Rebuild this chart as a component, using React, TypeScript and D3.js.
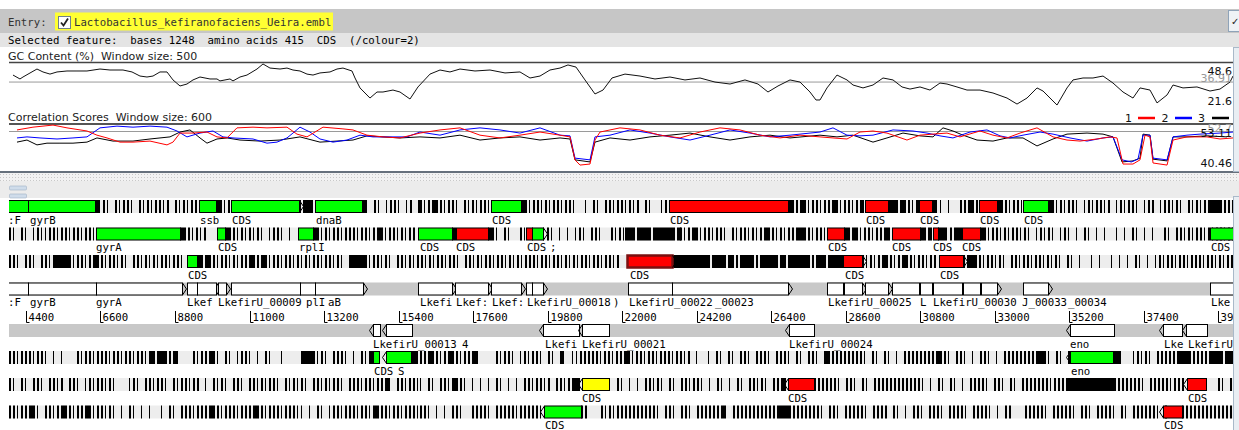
import React from 'react';
import * as d3 from 'd3';

// ---------- view / scale data ----------
const VIEW_START = 3899;
const VIEW_END = 40031;
const scaleTicks = [4400, 6600, 8800, 11000, 13200, 15400, 17600, 19800, 22000, 24200, 26400, 28600, 30800, 33000, 35200, 37400, 39600];
const BIN = 118; // bp per stop-codon pattern cell

// ---------- GC content (window 500) ----------
const gcPoints: [number, number][] = [
  [4017, 41.2], [4223, 38.8], [4312, 40.0], [4725, 44.9], [4902, 43.1], [5109, 41.8], [5316, 43.1], [5611, 43.7],
  [5906, 43.7], [6201, 43.7], [6585, 44.9], [6880, 44.3], [7264, 44.3], [7530, 43.1], [7766, 40.6], [7972, 40.0],
  [8150, 40.6], [8356, 43.1], [8563, 43.1], [8740, 38.2], [8947, 34.5], [9153, 35.7], [9330, 38.2], [9537, 40.0],
  [9832, 38.8], [10039, 38.8], [10127, 37.6], [10423, 38.8], [10511, 37.6], [10718, 40.0], [10924, 41.2], [11220, 44.9],
  [11397, 48.0], [11603, 45.5], [11899, 44.9], [12105, 45.5], [12282, 44.3], [12489, 43.7], [12696, 41.8], [12873, 41.2],
  [13079, 42.5], [13375, 43.1], [13581, 44.9], [13758, 45.5], [14024, 43.7], [14113, 39.4], [14260, 33.3], [14555, 27.1],
  [14762, 30.8], [14939, 30.8], [15234, 32.0], [15441, 30.8], [15736, 26.5], [15972, 33.9],
  [16327, 41.8], [16622, 44.3], [16917, 43.1], [17212, 44.9], [17655, 43.7], [18098, 44.3], [18541, 42.5], [18983, 43.1],
  [19279, 39.4], [19574, 40.6], [19869, 44.3], [20164, 45.5], [20400, 47.4], [20637, 46.1], [20902, 38.2], [21197, 29.6],
  [21434, 32.0], [21699, 39.4], [22083, 41.8], [22526, 40.6], [22969, 38.8], [23411, 40.0], [23854, 38.2], [24297, 39.4],
  [24740, 36.9], [25183, 35.7], [25625, 38.2], [26009, 35.7], [26304, 30.8], [26600, 34.5], [26954, 38.2], [27249, 36.9],
  [27544, 30.8], [27721, 25.9], [27839, 25.9], [28046, 33.3], [28341, 41.2], [28636, 38.2], [28814, 35.1], [29109, 33.3],
  [29404, 35.1], [29699, 39.4], [29994, 38.2], [30260, 33.9], [30496, 32.6], [30791, 33.9], [31086, 32.0], [31381, 36.3],
  [31588, 35.7], [31883, 33.9], [32178, 32.0], [32563, 32.0], [32946, 30.2], [33360, 27.1], [33655, 23.4], [33950, 27.1],
  [34246, 33.3], [34423, 31.4], [34836, 22.8], [35131, 33.3], [35308, 38.2], [35603, 39.4], [35898, 39.4], [36194, 40.6],
  [36489, 36.3], [36784, 30.8], [37079, 27.1], [37286, 33.3], [37581, 32.0], [37788, 24.1], [38084, 29.0], [38261, 35.1],
  [38555, 33.3], [38968, 33.9], [39352, 31.4], [39647, 32.6], [39942, 36.9], [40031, 40.6],
];
const GC_MAX = 48.6, GC_MIN = 21.6, GC_AVG = 36.91;

// ---------- correlation scores (window 600) ----------
const corr1: [number, number][] = [
  [4135, 51.4], [4607, 52.2], [5198, 52.8], [5611, 52.0], [6201, 51.1], [6496, 49.9], [6792, 49.1], [7175, 47.9],
  [7559, 47.9], [8061, 48.2], [8563, 47.1], [8740, 47.9], [8947, 50.5], [9330, 50.5], [9744, 50.8], [10039, 49.4],
  [10334, 49.1], [10629, 52.0], [11102, 52.2], [11515, 52.0], [12105, 52.2], [12400, 50.2], [12696, 49.4], [13168, 52.2],
  [13758, 51.7], [14053, 51.4], [14467, 49.9], [14939, 49.4], [15441, 49.1], [16031, 50.5], [16622, 51.4], [17212, 52.0],
  [17803, 49.9], [18393, 49.1], [18983, 49.9], [19574, 50.8], [20164, 49.9], [20460, 49.4], [20607, 42.8], [20755, 41.3],
  [21050, 41.6], [21197, 48.5], [21345, 50.8], [21935, 52.0], [22526, 51.4], [23116, 49.9], [23707, 49.1], [24297, 50.8],
  [24887, 52.0], [25478, 51.4], [26068, 49.9], [26659, 49.1], [27249, 49.9], [27839, 49.4], [28223, 49.1], [28636, 48.8],
  [29020, 50.8], [29404, 51.1], [29817, 50.5], [30407, 48.5], [30791, 49.9], [31175, 50.2], [31588, 50.5], [31972, 49.4],
  [32563, 51.1], [32946, 49.9], [33360, 49.1], [33743, 50.5], [34245, 52.0], [34718, 49.4], [35131, 48.5], [35515, 48.2],
  [36017, 48.8], [36400, 49.4], [36607, 49.1], [36784, 41.6], [37079, 41.6], [37286, 42.8], [37434, 49.9], [37581, 49.4],
  [37670, 41.9], [38084, 41.3], [38261, 48.5], [38673, 49.4], [39263, 49.4], [39647, 48.8], [40031, 49.1],
];
const corr2: [number, number][] = [
  [4135, 49.1], [4430, 49.4], [4814, 49.1], [5316, 48.8], [5788, 49.1], [6201, 49.4], [6585, 52.0], [7087, 52.5],
  [7559, 52.2], [8061, 52.5], [8563, 52.2], [8858, 51.1], [9153, 49.4], [9537, 50.5], [9921, 51.1], [10216, 49.4],
  [10511, 49.1], [11102, 48.8], [11515, 47.6], [11810, 47.9], [12105, 49.1], [12282, 50.5], [12489, 52.2], [12784, 50.8],
  [13079, 48.8], [13463, 47.9], [13876, 48.5], [14260, 49.9], [14644, 49.4], [15145, 49.4], [15647, 49.4], [16031, 50.8],
  [16622, 49.9], [17212, 51.4], [17803, 52.0], [18393, 51.4], [18983, 50.5], [19574, 52.0], [20164, 49.9], [20460, 49.7],
  [20607, 43.3], [21050, 42.8], [21197, 49.4], [21640, 49.9], [22231, 51.4], [22821, 50.5], [23411, 49.4], [24002, 48.5],
  [24592, 49.9], [25183, 51.4], [25773, 50.5], [26363, 49.4], [26954, 49.9], [27839, 50.8], [28223, 52.0], [28636, 49.9],
  [29020, 49.7], [29404, 49.9], [29994, 51.4], [30584, 51.1], [30998, 50.5], [31381, 49.7], [31765, 49.1], [32267, 50.8],
  [32769, 51.4], [33153, 49.7], [33448, 49.1], [33832, 49.9], [34335, 50.8], [34718, 50.2], [35219, 49.1], [35722, 48.2],
  [36194, 49.1], [36489, 49.4], [36755, 42.8], [37030, 42.2], [37227, 43.0], [37374, 49.9], [37581, 49.9], [37670, 43.3],
  [38084, 42.8], [38261, 49.4], [38673, 49.9], [39057, 50.2], [39647, 50.5], [40031, 50.8],
];
const corr3: [number, number][] = [
  [4135, 47.9], [4430, 48.5], [4725, 47.1], [5020, 47.6], [5404, 47.6], [5788, 47.6], [6201, 47.9], [6496, 49.1],
  [6969, 48.2], [7559, 48.2], [8061, 48.8], [8651, 49.4], [8947, 50.8], [9242, 51.4], [9537, 49.1], [9744, 47.6],
  [10039, 48.8], [10334, 49.1], [10718, 48.5], [11308, 48.2], [11899, 48.5], [12489, 49.4], [13079, 47.9], [13581, 48.2],
  [14053, 48.5], [14467, 49.7], [14939, 49.4], [15441, 49.1], [16031, 49.4], [16622, 49.1], [17212, 49.9], [17803, 48.5],
  [18393, 49.1], [18983, 49.4], [19574, 48.5], [20164, 49.1], [20460, 48.8], [20607, 42.8], [21050, 42.2], [21197, 47.9],
  [21640, 49.1], [22231, 48.5], [22821, 49.4], [23411, 49.9], [24002, 50.5], [24592, 49.4], [25183, 48.5], [25773, 49.4],
  [26363, 49.9], [26954, 49.1], [27839, 49.9], [28341, 49.4], [28814, 49.9], [29404, 47.9], [29817, 49.1], [30289, 50.5],
  [30791, 49.7], [31175, 49.4], [31470, 52.0], [31765, 51.1], [32061, 49.9], [32474, 48.5], [32946, 48.2], [33360, 49.1],
  [33832, 49.1], [34245, 46.8], [34718, 48.8], [35131, 50.2], [35722, 50.5], [36194, 50.2], [36489, 49.4], [36755, 42.2],
  [37079, 42.5], [37286, 43.3], [37374, 50.2], [37581, 49.9], [37670, 43.0], [38084, 42.5], [38261, 49.4], [38673, 49.4],
  [39263, 49.7], [39853, 49.4],
];
const CORR_MAX = 53.11, CORR_MIN = 40.46, CORR_AVG_LINE = 50.95;
const corrLegend = [{ n: '1', c: '#ff0000' }, { n: '2', c: '#0000ff' }, { n: '3', c: '#000000' }];

// ---------- features ----------
type Cds = { row: string; s: number; e: number; c: string; sel?: boolean };
const cdsForward: Cds[] = [
  { row: 'f1', s: 3800, e: 4460, c: 'g' }, { row: 'f1', s: 4460, e: 6437, c: 'g' }, { row: 'f1', s: 9507, e: 10009, c: 'g' },
  { row: 'f1', s: 10452, e: 12460, c: 'g' }, { row: 'f1', s: 12932, e: 14319, c: 'g' }, { row: 'f1', s: 18127, e: 19013, c: 'g' },
  { row: 'f1', s: 23382, e: 26895, c: 'r' }, { row: 'f1', s: 29168, e: 29847, c: 'r' }, { row: 'f1', s: 30762, e: 31145, c: 'r' },
  { row: 'f1', s: 32533, e: 33064, c: 'r' }, { row: 'f1', s: 33832, e: 34570, c: 'g' },
  { row: 'f2', s: 6467, e: 8947, c: 'g' }, { row: 'f2', s: 10039, e: 10275, c: 'g' }, { row: 'f2', s: 12430, e: 12873, c: 'g' },
  { row: 'f2', s: 15972, e: 16976, c: 'g' }, { row: 'f2', s: 17094, e: 18039, c: 'r' }, { row: 'f2', s: 19161, e: 19338, c: 'r' },
  { row: 'f2', s: 19338, e: 19663, c: 'g' }, { row: 'f2', s: 28046, e: 28548, c: 'r' }, { row: 'f2', s: 29965, e: 30791, c: 'r' },
  { row: 'f2', s: 31175, e: 31323, c: 'r' }, { row: 'f2', s: 32031, e: 32563, c: 'r' }, { row: 'f2', s: 39352, e: 40500, c: 'g' },
  { row: 'f3', s: 9153, e: 9448, c: 'g' }, { row: 'f3', s: 22142, e: 23471, c: 'r', sel: true }, { row: 'f3', s: 28518, e: 29079, c: 'r' },
  { row: 'f3', s: 31352, e: 32061, c: 'r' },
];
const cdsReverse: Cds[] = [
  { row: 'r1', s: 14644, e: 14821, c: 'g' }, { row: 'r1', s: 15027, e: 15766, c: 'g' }, { row: 'r1', s: 35219, e: 36489, c: 'g' },
  { row: 'r2', s: 20814, e: 21611, c: 'y' }, { row: 'r2', s: 26895, e: 27662, c: 'r' }, { row: 'r2', s: 38673, e: 39234, c: 'r' },
  { row: 'r3', s: 19692, e: 20784, c: 'g' }, { row: 'r3', s: 37965, e: 38526, c: 'r' },
];
const genesForward: [number, number][] = [
  [3800, 4460], [4460, 6467], [6467, 9006], [9153, 9448], [9448, 10009], [10068, 10305], [10452, 12489], [12489, 12932],
  [12932, 14349], [15972, 16976], [17065, 18039], [18127, 19013], [19161, 19338], [19338, 19663], [22172, 23471],
  [23471, 26895], [28046, 28518], [28548, 29079], [29168, 29847], [29965, 30762], [30791, 31145], [31175, 32031],
  [32061, 32563], [32593, 33064], [33832, 34570], [39352, 40500],
];
const genesReverse: [number, number][] = [
  [14644, 14851], [15027, 15795], [19663, 20725], [20814, 21611], [26924, 27662], [35219, 36519], [37965, 38526], [38644, 39263],
];

type Lab = [number, string];
const labelsF1: Lab[] = [[3869, ':F'], [4519, 'gyrB'], [9537, 'ssb'], [10482, 'CDS'], [12961, 'dnaB'], [18157, 'CDS'], [23411, 'CDS'], [29197, 'CDS'], [30791, 'CDS'], [32563, 'CDS'], [33861, 'CDS']];
const labelsF2: Lab[] = [[6467, 'gyrA'], [10068, 'CDS'], [12460, 'rplI'], [16031, 'CDS'], [17094, 'CDS'], [19190, 'CDS'], [19869, ';'], [28075, 'CDS'], [29965, 'CDS'], [31175, 'CDS'], [32031, 'CDS'], [39382, 'CDS']];
const labelsF3: Lab[] = [[9183, 'CDS'], [22231, 'CDS'], [28577, 'CDS'], [31381, 'CDS']];
const labelsFS: Lab[] = [[3869, ':F'], [4519, 'gyrB'], [6467, 'gyrA'], [9153, 'Lkef'], [10068, 'LkefirU_00009'], [12666, 'plI'], [13316, 'aB'], [16031, 'Lkefi'], [17094, 'Lkef:'], [18157, 'Lkef:'], [19190, 'LkefirU_00018'], [21729, ')'], [22201, 'LkefirU_00022'], [24740, '_00023'], [28075, 'LkefirU_00025'], [30791, 'L'], [31175, 'LkefirU_00030'], [33803, 'J_00033'], [35160, '_00034'], [39382, 'Lke']];
const labelsRS: Lab[] = [[14644, 'LkefirU_00013'], [17271, '4'], [19722, 'Lkefi'], [20814, 'LkefirU_00021'], [26924, 'LkefirU_00024'], [35219, 'eno'], [37995, 'Lke'], [38703, 'LkefirU']];
const labelsR1: Lab[] = [[14673, 'CDS'], [15382, 'S'], [35249, 'eno']];
const labelsR2: Lab[] = [[20814, 'CDS'], [26895, 'CDS'], [38703, 'CDS']];
const labelsR3: Lab[] = [[19722, 'CDS'], [37995, 'CDS']];

// ---------- stop codon patterns: [start bp, pattern] ('#' full, '!' half, '|' quarter of a bin) ----------
type Piece = [number, string];
const stopsF1: Piece[] = [
  [6437, '#'], [6555, '|!| !|!!| !|!|!!|! !|!|!!'], [10009, '#!|!'], [12460, '!##!'], [14319, '#| !| |!!| |! !'],
  [16031, '!|!#!!|!!| !|!|!!|!'], [19013, '#!|!!|!|!!|!!|  | !| !!|!!|!|! !|  |!'], [26895, '#!!#!|!!|!!#!|!!|!#'],
  [29847, '##!#!!|#'], [31145, '#|| |  !!#!!'], [33064, '#!!|!!|'], [34570, '#!|!|!!| |!|!!|! |!|!!| |!! |!!|!| !|!|!###!!!#'],
];
const stopsF2: Piece[] = [
  [3899, '!| !| |!||!!|!!|!!|!!|'], [8947, '#!!|!|!  '], [10275, '#!!|!|!|!| |!!| |  '], [12873, '#!|!|!!|!!!|!!|!#!|!!|!|!!'],
  [16976, '#'], [18039, '#!| !|  !|'], [19663, '|!| | | |!| !!|  !|!|'], [22083, '##!###!#####!#'],
  [23707, '!|!#!|!!|!!| !|!!|!|!#!!|!|!!##!!|!!|'], [28548, '#!#!|!!|!!#!'], [30791, '#!#'], [31323, '##|!##'],
  [32563, '#!|!!|!|!!|!| |!|!| |!| | !| | |  | | !| | |  !| !!|!|!!|!|!!|!!|'],
];
const stopsF3: Piece[] = [
  [3899, '!!| !!| !!|####!|!!|!#!!|!!|!| !!|!|!|!!|!!|'],
  [9448, '#!#!!|!!|!|!!#!!#!|!!|!!|!|!|!!|!!|!| ####!|!!|!| !!|!|!!|!|!!|!!| !!|!|!!|!!|!|!|!!!|!!|!!|!|!|!!|!!|!!|!'],
  [23471, '#########!###!#!!###!!####!#!#####!!##!####'], [29079, '!|!|!#!!|!#!!|!!|!!'],
  [32061, '!##!!|!!|!| !!|!!|!!|!|!| !| |  | |  | | | !| | |!|!!|!!|!!!|!!|!|!!|!|!!'],
];
const stopsR1: Piece[] = [
  [3899, '!!|!!!|!!| | |   !|!!|!!!|!!|!!|!!|#!##!!#|   !|!!#!| !| |!!| | !|  |    ###!|!| !!!| | !|#'],
  [15795, '#!!!#!!|!#!!|!!#!    !|!!| |!|!!| !| #  ||!!!!!|!!|!!#!|!!|!!|!!!|!!|! |  | !| !| !!| !!!| !!!| !| !!| #!!!!!!!!!| !| !| | !!!!!!!!#!!| !!| | !!| | !!!!!!!!##!| !| !'],
  [36489, '##   |!|!| !!!!!###!!!!!###!##'],
];
const stopsR2: Piece[] = [
  [3899, '!| !| !!| !!|! !!| |!|!!|!|   |!| !!|!!| !|!!|!! | !|!| !!| !!|!|!!| !|!|!| !!|!|!!| !!!|!!|!!#| !!|!!|'],
  [16031, '| !| !!|#!!| | | | !| | | !!|!!|! !!|!##'], [21611, '| !| | | !!|!| !| !!|!!| | !| | !| !!|!| !!#|'],
  [27662, '!!!!!!| !!| !| !!!!!!!!!!!!| | !| !| | !!!!| !!| !| !!!!!!!|!!!############!!!!!!!| !!!!!|!!!'],
  [39234, '|  !| !'],
];
const stopsR3: Piece[] = [
  [3899, '!!|!!#!| !!|!#!!|!!#!|!!|!| | !| | |  | !| !!!|!!!#!!|!!!|!!!#!!|!!!|!!!|| | !| |!!|!!!|!!|#!!!|!!|!!!|'],
  [16031, '!!| | | !!|  !!!!| !!!!!|!!!!!|'],
  [20784, '!!   !|!|!!!!!!!!!!| !!| !!| !!!!!!#| !!!!!!!!!!!###!!!!!!!!| !!| !!!!!| !!!! !| | !!| !!!| !!!!| !!!!| | !!   !!!!!| !!!!!| !!| !!!!| !| !!!!!!| !'],
  [38526, '!!!!!!!!!!!!!'],
];

// ---------- layout ----------
const W = 1239, H = 430;
const X0 = 9, X1 = 1233;
const ROW_H = 13;
const ROW_Y: Record<string, number> = { f1: 200, f2: 227.5, f3: 255, fs: 282.5, rs: 324, r1: 351, r2: 378, r3: 405.5 };
const MONO = '"DejaVu Sans Mono", monospace';
const SANS = '"DejaVu Sans", sans-serif';
const MONO_SIZE = 10.7;
const COLORS: Record<string, string> = { g: '#00ff00', r: '#ff0000', y: '#ffff00' };

export default function App() {
  const xs = d3.scaleLinear().domain([VIEW_START, VIEW_END]).range([X0, X1]);
  const gy = d3.scaleLinear().domain([GC_MIN, GC_MAX]).range([107, 63]);
  const cy = d3.scaleLinear().domain([CORR_MIN, CORR_MAX]).range([168, 124]);
  const gcLine = d3.line<[number, number]>().x(d => xs(d[0])).y(d => gy(d[1]));
  const cLine = d3.line<[number, number]>().x(d => xs(d[0])).y(d => cy(d[1]));

  const stopRects = (pieces: Piece[], rowKey: string) => {
    const y = ROW_Y[rowKey];
    const out: JSX.Element[] = [];
    pieces.forEach(([start, pat], pi) => {
      for (let i = 0; i < pat.length; i++) {
        const ch = pat[i];
        if (ch === ' ') continue;
        const frac = ch === '#' ? 1 : ch === '!' ? 0.5 : 0.25;
        const b = start + i * BIN;
        const xa = Math.round(xs(b));
        const w = Math.max(1, Math.round(xs(b + BIN * frac) - xs(b)));
        out.push(<rect key={`${rowKey}-${pi}-${i}`} x={xa} y={y} width={w} height={ROW_H} fill="#000" />);
      }
    });
    return out;
  };

  const cdsBox = (f: Cds, i: number, forward: boolean) => {
    const y = ROW_Y[f.row];
    const xa = Math.round(xs(f.s)) + 0.5;
    const xb = Math.round(xs(f.e)) + 0.5;
    const ym = y + ROW_H / 2;
    const arrow = forward
      ? `M${xb},${y + 0.5}L${xb + 4},${ym}L${xb},${y + ROW_H - 0.5}`
      : `M${xa},${y + 0.5}L${xa - 4},${ym}L${xa},${y + ROW_H - 0.5}`;
    return (
      <g key={`cds-${forward ? 'f' : 'r'}-${i}`}>
        <rect x={xa} y={y + 0.5} width={xb - xa} height={ROW_H - 1} fill={COLORS[f.c]}
          stroke={f.sel ? '#7a1010' : '#000'} strokeWidth={f.sel ? 2.5 : 1} />
        <path d={arrow} fill="none" stroke="#000" strokeWidth={1} />
      </g>
    );
  };

  const geneBox = (g: [number, number], i: number, rowKey: string, forward: boolean) => {
    const y = ROW_Y[rowKey];
    const xa = Math.round(xs(g[0])) + 0.5;
    const xb = Math.round(xs(g[1])) + 0.5;
    const ym = y + ROW_H / 2;
    const arrow = forward
      ? `M${xb},${y + 0.5}L${xb + 4},${ym}L${xb},${y + ROW_H - 0.5}`
      : `M${xa},${y + 0.5}L${xa - 4},${ym}L${xa},${y + ROW_H - 0.5}`;
    return (
      <g key={`gene-${rowKey}-${i}`}>
        <rect x={xa} y={y + 0.5} width={xb - xa} height={ROW_H - 1} fill="#fff" stroke="#000" strokeWidth={1} />
        <path d={arrow} fill="none" stroke="#000" strokeWidth={1} />
      </g>
    );
  };

  const labels = (labs: Lab[], rowKey: string) => {
    const base = ROW_Y[rowKey] + ROW_H + 10.5;
    return labs.map(([p, t], i) => (
      <text key={`lab-${rowKey}-${i}`} x={Math.max(xs(p), 8)} y={base} fontFamily={MONO} fontSize={MONO_SIZE} fill="#000"
        style={{ whiteSpace: 'pre' }}>{t}</text>
    ));
  };

  const frameRows = ['f1', 'f2', 'f3', 'r1', 'r2', 'r3'];

  return (
    <svg width={W} height={H} style={{ position: 'absolute', left: 0, top: 0, background: '#fff' }}
      xmlns="http://www.w3.org/2000/svg">
      <defs>
        <clipPath id="featClip"><rect x={X0} y={180} width={X1 - X0} height={H - 180} /></clipPath>
        <clipPath id="plotClip"><rect x={X0} y={40} width={X1 - X0} height={140} /></clipPath>
        <pattern id="dots" width={3} height={3} patternUnits="userSpaceOnUse">
          <rect width={3} height={3} fill="#f2f2f2" />
          <rect width={1} height={1} fill="#c8c8c8" />
        </pattern>
      </defs>

      {/* entry bar */}
      <rect x={0} y={9} width={W} height={24} fill="#c6c6c6" />
      <text x={8} y={26} fontFamily={MONO} fontSize={MONO_SIZE} fill="#333">Entry:</text>
      <rect x={55} y={12.5} width={278} height={18} fill="#ffff33" />
      <rect x={58.5} y={16.5} width={12} height={12} fill="#fff" stroke="#6f7f8f" />
      <path d="M61,22.5 L63.5,25.5 L68,18.5" fill="none" stroke="#222" strokeWidth={1.8} />
      <text x={74} y={26} fontFamily={MONO} fontSize={MONO_SIZE} fill="#333">Lactobacillus_kefiranofaciens_Ueira.embl</text>
      <rect x={1228.5} y={10.5} width={12} height={21} fill="#eef2f6" stroke="#8fa3b8" />
      <text x={1231} y={25} fontFamily={SANS} fontSize={10} fill="#222">✓</text>

      {/* selected feature line */}
      <rect x={0} y={33} width={W} height={14} fill="#e4e4e4" />
      <text x={8} y={44} fontFamily={MONO} fontSize={MONO_SIZE} fill="#000" style={{ whiteSpace: 'pre' }}>
        {'Selected feature:  bases 1248  amino acids 415  CDS  (/colour=2)'}
      </text>

      {/* GC content */}
      <text x={8} y={60} fontFamily={SANS} fontSize={11} fill="#222" style={{ whiteSpace: 'pre' }}>{'GC Content (%)  Window size: 500'}</text>
      <line x1={X0} x2={X1} y1={62.5} y2={62.5} stroke="#444" strokeWidth={1.5} />
      <line x1={X0} x2={X1} y1={gy(GC_AVG)} y2={gy(GC_AVG)} stroke="#9a9a9a" strokeWidth={1} />
      <path d={gcLine(gcPoints) || ''} fill="none" stroke="#111" strokeWidth={1} clipPath="url(#plotClip)" />
      <text x={1232} y={75} textAnchor="end" fontFamily={SANS} fontSize={11} fill="#111">{GC_MAX.toFixed(1)}</text>
      <text x={1232} y={gy(GC_AVG)} textAnchor="end" fontFamily={SANS} fontSize={11} fill="#999">{GC_AVG.toFixed(2)}</text>
      <text x={1232} y={105} textAnchor="end" fontFamily={SANS} fontSize={11} fill="#111">{GC_MIN.toFixed(1)}</text>

      {/* correlation scores */}
      <text x={8} y={121} fontFamily={SANS} fontSize={11} fill="#222" style={{ whiteSpace: 'pre' }}>{'Correlation Scores  Window size: 600'}</text>
      {corrLegend.map((l, i) => (
        <g key={`leg-${i}`}>
          <text x={1125 + i * 36.5} y={122} fontFamily={SANS} fontSize={11} fill="#111">{l.n}</text>
          <line x1={1138 + i * 37} x2={1155 + i * 37} y1={118} y2={118} stroke={l.c} strokeWidth={2.5} />
        </g>
      ))}
      <line x1={X0} x2={X1} y1={124} y2={124} stroke="#555" strokeWidth={2} />
      <line x1={X0} x2={X1} y1={cy(CORR_AVG_LINE)} y2={cy(CORR_AVG_LINE)} stroke="#9a9a9a" strokeWidth={1} />
      <text x={1232} y={cy(CORR_AVG_LINE)} textAnchor="end" fontFamily={SANS} fontSize={11} fill="#999">52.7</text>
      <path d={cLine(corr3) || ''} fill="none" stroke="#000" strokeWidth={1} clipPath="url(#plotClip)" />
      <path d={cLine(corr2) || ''} fill="none" stroke="#0000ff" strokeWidth={1} clipPath="url(#plotClip)" />
      <path d={cLine(corr1) || ''} fill="none" stroke="#ff0000" strokeWidth={1} clipPath="url(#plotClip)" />
      <text x={1232} y={137} textAnchor="end" fontFamily={SANS} fontSize={11} fill="#111">{CORR_MAX.toFixed(2)}</text>
      <text x={1232} y={167} textAnchor="end" fontFamily={SANS} fontSize={11} fill="#111">{CORR_MIN.toFixed(2)}</text>
      <line x1={0} x2={W} y1={172} y2={172} stroke="#66707c" strokeWidth={2} />

      {/* splitter + panel */}
      <rect x={0} y={173} width={W} height={8} fill="url(#dots)" />
      <rect x={0} y={181} width={W} height={17} fill="#ececec" />
      <rect x={9.5} y={186} width={17} height={4} rx={1} fill="#cfdcea" stroke="#9fb2c6" strokeWidth={0.6} />
      <rect x={9.5} y={194} width={17} height={4} rx={1} fill="#cfdcea" stroke="#9fb2c6" strokeWidth={0.6} />

      {/* scroll strips */}
      <rect x={1233.5} y={47.5} width={6} height={124} fill="#e9eef3" stroke="#a9b9c9" />
      <rect x={1233.5} y={196.5} width={6} height={234} fill="#e9eef3" stroke="#a9b9c9" />

      <g clipPath="url(#featClip)">
        {/* frame line backgrounds */}
        {frameRows.map(r => <rect key={`bg-${r}`} x={X0} y={ROW_Y[r]} width={X1 - X0} height={ROW_H} fill="#ededed" />)}
        <rect x={X0} y={ROW_Y.fs} width={X1 - X0} height={ROW_H} fill="#c8c8c8" />
        <rect x={X0} y={ROW_Y.rs} width={X1 - X0} height={ROW_H} fill="#c8c8c8" />

        {stopRects(stopsF1, 'f1')}
        {stopRects(stopsF2, 'f2')}
        {stopRects(stopsF3, 'f3')}
        {stopRects(stopsR1, 'r1')}
        {stopRects(stopsR2, 'r2')}
        {stopRects(stopsR3, 'r3')}

        {genesForward.map((g, i) => geneBox(g, i, 'fs', true))}
        {genesReverse.map((g, i) => geneBox(g, i, 'rs', false))}
        {cdsForward.map((f, i) => cdsBox(f, i, true))}
        {cdsReverse.map((f, i) => cdsBox(f, i, false))}

        {labels(labelsF1, 'f1')}
        {labels(labelsF2, 'f2')}
        {labels(labelsF3, 'f3')}
        {labels(labelsFS, 'fs')}
        {labels(labelsRS, 'rs')}
        {labels(labelsR1, 'r1')}
        {labels(labelsR2, 'r2')}
        {labels(labelsR3, 'r3')}

        {/* base scale */}
        {scaleTicks.map(t => {
          const x = Math.round(xs(t)) + 0.5;
          return (
            <g key={`tick-${t}`}>
              <path d={`M${x},311V322.5H${x + 3}`} fill="none" stroke="#000" strokeWidth={1} />
              <text x={x + 2} y={321} fontFamily={MONO} fontSize={MONO_SIZE} fill="#000">{t}</text>
            </g>
          );
        })}
      </g>
    </svg>
  );
}
